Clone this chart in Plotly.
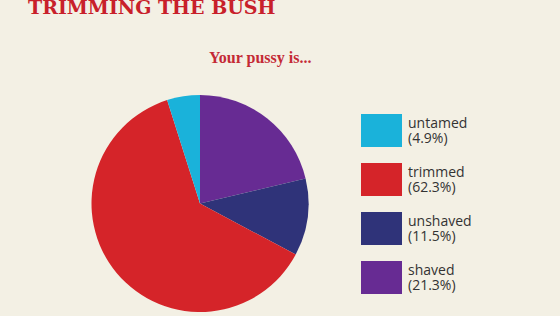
import plotly.graph_objects as go

labels = ["untamed", "trimmed", "unshaved", "shaved"]
values = [4.9, 62.3, 11.5, 21.3]
colors = ["#1ab2da", "#d52429", "#2f3379", "#672b93"]
title_text = "TRIMMING THE BUSH"
subtitle_text = "Your pussy is..."

W, H = 560, 316
BG = "#f3f0e4"

def px(x):
    return x / W

def py(y):
    return 1 - y / H

cx, cy, r = 200, 203.5, 108.5

fig = go.Figure()
fig.add_trace(go.Pie(
    labels=labels[::-1], values=values[::-1], sort=False, direction="clockwise",
    rotation=0, marker=dict(colors=colors[::-1], line=dict(width=0)),
    textinfo="none", hoverinfo="label+percent", showlegend=False,
    domain=dict(x=[px(cx - r), px(cx + r)], y=[py(cy + r), py(cy - r)]),
))

shapes = []
annotations = []
top0, step, sw, sh = 114, 49, 41, 33
for i, (lab, val, col) in enumerate(zip(labels, values, colors)):
    t = top0 + i * step
    shapes.append(dict(type="rect", xref="paper", yref="paper",
                       x0=px(361), x1=px(361 + sw), y0=py(t + sh), y1=py(t),
                       fillcolor=col, line=dict(width=0)))
    annotations.append(dict(x=px(406), y=py(t + 8.5), xref="paper", yref="paper",
                            text=lab, showarrow=False, xanchor="left", yanchor="middle",
                            font=dict(family="Open Sans", size=14, color="#333333")))
    annotations.append(dict(x=px(406), y=py(t + 23.5), xref="paper", yref="paper",
                            text=f"({val}%)", showarrow=False, xanchor="left", yanchor="middle",
                            font=dict(family="Open Sans", size=14, color="#333333")))

annotations.append(dict(x=px(152), y=py(7), xref="paper", yref="paper",
                        text=f"<b>{title_text}</b>", showarrow=False,
                        xanchor="center", yanchor="middle",
                        font=dict(family="DejaVu Serif", size=19, color="#c8202a")))
annotations.append(dict(x=px(260), y=py(58), xref="paper", yref="paper",
                        text=f"<b>{subtitle_text}</b>", showarrow=False,
                        xanchor="center", yanchor="middle",
                        font=dict(family="Liberation Serif", size=16, color="#c42a35")))

fig.update_layout(
    width=W, height=H, margin=dict(l=0, r=0, t=0, b=0),
    paper_bgcolor=BG, plot_bgcolor=BG,
    shapes=shapes, annotations=annotations,
)
fig.write_html("out.html", config={"displayModeBar": False})
